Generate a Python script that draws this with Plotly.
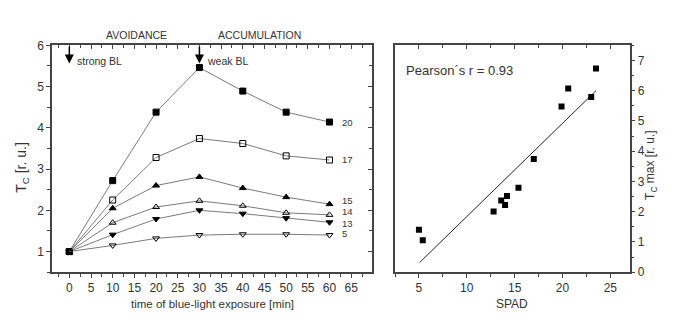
import plotly.graph_objects as go

# ---- data: left panel (time course) ----
time_min = [0, 10, 20, 30, 40, 50, 60]
series_labels = ["20", "17", "15", "14", "13", "5"]
tc_20 = [1.0, 2.72, 4.38, 5.46, 4.89, 4.38, 4.14]
tc_17 = [1.0, 2.25, 3.28, 3.74, 3.62, 3.32, 3.22]
tc_15 = [1.0, 2.05, 2.60, 2.81, 2.54, 2.32, 2.15]
tc_14 = [1.0, 1.70, 2.08, 2.23, 2.11, 1.94, 1.89]
tc_13 = [1.0, 1.41, 1.79, 2.00, 1.92, 1.81, 1.71]
tc_5 = [1.0, 1.15, 1.32, 1.40, 1.42, 1.42, 1.40]
series_values = [tc_20, tc_17, tc_15, tc_14, tc_13, tc_5]
series_symbols = ["square", "square-open", "triangle-up", "triangle-up-open",
                  "triangle-down", "triangle-down-open"]
label_y = [4.14, 3.22, 2.24, 1.97, 1.68, 1.43]

# ---- data: right panel (correlation) ----
spad = [5.0, 5.4, 12.8, 13.6, 14.0, 14.2, 15.4, 17.0, 19.9, 20.6, 23.0, 23.5]
tc_max = [1.40, 1.06, 2.01, 2.37, 2.22, 2.52, 2.79, 3.74, 5.48, 6.07, 5.79, 6.73]
fit_x = [5.07, 23.5]
fit_y = [0.32, 6.0]

W, H = 700, 329
FONT = "Liberation Sans, Arial, sans-serif"
AXC = "#444444"
TXT = "#333333"

def px_x(p):
    return p / W

def px_y(p):
    return 1 - p / H

left_dom = [px_x(52), px_x(372)]
right_dom = [px_x(395), px_x(629.5)]
y_dom = [px_y(277), px_y(40)]
x_left_range = [-4, 69.8]

fig = go.Figure()

for vals, sym in zip(series_values, series_symbols):
    fig.add_trace(go.Scatter(
        x=time_min, y=vals, mode="lines+markers",
        line=dict(color="#7a7a7a", width=1),
        marker=dict(symbol=sym, size=6, color="black",
                    line=dict(color="black", width=1)),
        xaxis="x", yaxis="y", showlegend=False, hoverinfo="skip"))

fig.add_trace(go.Scatter(
    x=fit_x, y=fit_y, mode="lines", line=dict(color="#222222", width=1),
    xaxis="x2", yaxis="y2", showlegend=False, hoverinfo="skip"))
fig.add_trace(go.Scatter(
    x=spad, y=tc_max, mode="markers",
    marker=dict(symbol="square", size=6, color="black"),
    xaxis="x2", yaxis="y2", showlegend=False, hoverinfo="skip"))

# empty traces to make the mirror axes exist
for xa, ya in [("x3", "y"), ("x", "y3"), ("x4", "y2"), ("x2", "y4")]:
    fig.add_trace(go.Scatter(x=[None], y=[None], xaxis=xa, yaxis=ya,
                             showlegend=False, hoverinfo="skip"))

tickfont = dict(family=FONT, size=12, color=TXT)
common = dict(showline=True, linecolor=AXC, linewidth=1.5, showgrid=False,
              zeroline=False, tickcolor=AXC, tickfont=tickfont)

fig.update_layout(
    width=W, height=H, margin=dict(l=0, r=0, t=0, b=0),
    paper_bgcolor="white", plot_bgcolor="white",
    font=dict(family=FONT, color=TXT),
    xaxis=dict(domain=left_dom, anchor="y", range=x_left_range,
               tickmode="linear", tick0=0, dtick=5, ticks="outside", ticklen=4,
               minor=dict(dtick=2.5, tick0=0, ticks="outside", ticklen=3, tickcolor=AXC),
               **common),
    xaxis3=dict(overlaying="x", anchor="y", side="top", range=x_left_range,
                tickmode="linear", tick0=0, dtick=5, ticks="inside", ticklen=4,
                showticklabels=False,
                minor=dict(dtick=2.5, tick0=0, ticks="inside", ticklen=3, tickcolor=AXC),
                **common),
    yaxis=dict(domain=y_dom, anchor="x", range=[0.5, 6],
               tickmode="linear", tick0=0, dtick=1, ticks="outside", ticklen=4,
               minor=dict(dtick=0.5, tick0=0, ticks="outside", ticklen=3, tickcolor=AXC),
               **common),
    yaxis3=dict(overlaying="y", anchor="x", side="right", range=[0.5, 6],
                tickmode="linear", tick0=0, dtick=1, ticks="inside", ticklen=4,
                showticklabels=False,
                minor=dict(dtick=0.5, tick0=0, ticks="inside", ticklen=3, tickcolor=AXC),
                **common),
    xaxis2=dict(domain=right_dom, anchor="y2", range=[2.5, 27],
                tickmode="linear", tick0=0, dtick=5, ticks="outside", ticklen=4,
                minor=dict(dtick=2.5, tick0=0, ticks="outside", ticklen=3, tickcolor=AXC),
                **common),
    xaxis4=dict(overlaying="x2", anchor="y2", side="top", range=[2.5, 27],
                tickmode="linear", tick0=0, dtick=5, ticks="inside", ticklen=4,
                showticklabels=False,
                minor=dict(dtick=2.5, tick0=0, ticks="inside", ticklen=3, tickcolor=AXC),
                **common),
    yaxis2=dict(domain=y_dom, anchor="x2", side="right", range=[0, 7.5],
                tickmode="linear", tick0=0, dtick=1, ticks="outside", ticklen=4,
                minor=dict(dtick=0.5, tick0=0, ticks="outside", ticklen=3, tickcolor=AXC),
                **common),
    yaxis4=dict(overlaying="y2", anchor="x2", side="left", range=[0, 7.5],
                ticks="", showticklabels=False, **common),
)

C = dict(xanchor="center", yanchor="middle", showarrow=False)
ann = []
# axis titles
ann.append(dict(text="T<sub>C</sub> [r. u.]", x=px_x(22), y=px_y(168), xref="paper", yref="paper",
                textangle=-90, font=dict(size=14, color=TXT), **C))
ann.append(dict(text="time of blue-light exposure [min]", x=px_x(212), y=px_y(310),
                xref="paper", yref="paper", font=dict(size=11.5, color=TXT), **C))
ann.append(dict(text="SPAD", x=px_x(512), y=px_y(310), xref="paper", yref="paper",
                font=dict(size=12, color=TXT), **C))
ann.append(dict(text="T<sub>C</sub> max [r. u.]", x=px_x(651), y=px_y(166), xref="paper", yref="paper",
                textangle=-90, font=dict(size=12, color=TXT), **C))
# phase labels
ann.append(dict(text="AVOIDANCE", x=15.5, y=px_y(29), xref="x", yref="paper",
                font=dict(size=10.5, color=TXT), **C))
ann.append(dict(text="ACCUMULATION", x=43.9, y=px_y(29), xref="x", yref="paper",
                font=dict(size=10.5, color=TXT), **C))
# arrows
for t in [0, 30]:
    ann.append(dict(x=t, y=5.56, ax=t, ay=6.0, xref="x", yref="y", axref="x", ayref="y",
                    text="", showarrow=True, arrowhead=2, arrowsize=1.2, arrowwidth=1.5,
                    arrowcolor="black"))
ann.append(dict(text="strong BL", x=1.2, y=5.61, xref="x", yref="y", xanchor="left",
                yanchor="middle", showarrow=False, font=dict(size=10.5, color=TXT)))
ann.append(dict(text="weak BL", x=31.2, y=5.63, xref="x", yref="y", xanchor="left",
                yanchor="middle", showarrow=False, font=dict(size=10.5, color=TXT)))
# series labels
for lab, ly in zip(series_labels, label_y):
    ann.append(dict(text=lab, x=62.4, y=ly, xref="x", yref="y", xanchor="left",
                    yanchor="middle", showarrow=False, font=dict(size=9.5, color=TXT)))
# Pearson
ann.append(dict(text="Pearson´s r = 0.93", x=3.4, y=6.68, xref="x2", yref="y2",
                xanchor="left", yanchor="middle", showarrow=False,
                font=dict(size=13, color=TXT)))

fig.update_layout(annotations=ann)
fig.write_html("out.html")
